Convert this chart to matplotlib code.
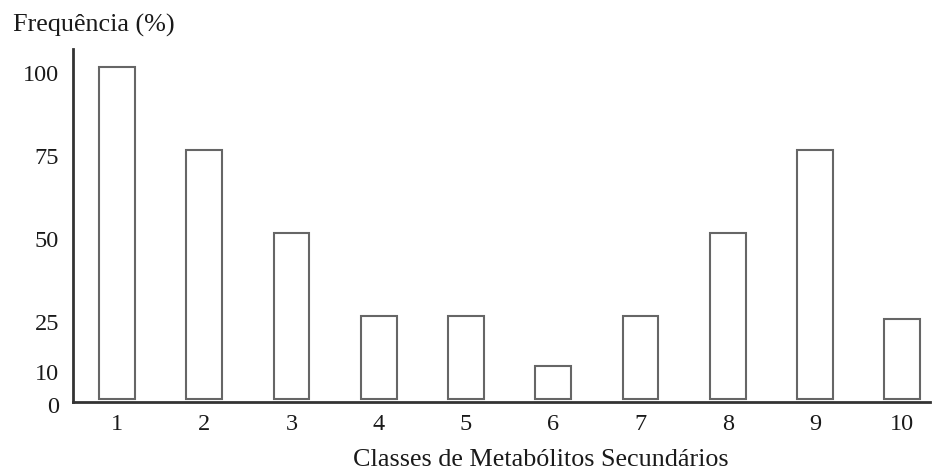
import matplotlib
matplotlib.use("Agg")
import matplotlib.pyplot as plt
from matplotlib.transforms import ScaledTranslation

categories = [1, 2, 3, 4, 5, 6, 7, 8, 9, 10]
values = [100, 75, 50, 25, 25, 10, 25, 50, 75, 24]
yticks = [0, 10, 25, 50, 75, 100]

plt.rcParams['font.family'] = ['Liberation Serif', 'DejaVu Serif']

fig = plt.figure(figsize=(9.33, 4.72), dpi=100)
ax = fig.add_axes([73/933, 1-402/472, (930-73)/933, (402-49)/472])

ax.bar(categories, values, width=0.41, facecolor='white', edgecolor='#666666', linewidth=1.5)

ax.set_xlim(0.495, 10.32)
ax.set_ylim(-0.9, 105.4)
ax.set_xticks(categories)
ax.set_xticklabels([str(c) for c in categories])
ax.set_yticks(yticks)
ax.set_yticklabels([str(t) for t in yticks])
ax.tick_params(axis='both', length=0, labelsize=17.5, colors='#1a1a1a')
ax.tick_params(axis='y', pad=10)
ax.tick_params(axis='x', pad=9)

off = ScaledTranslation(0, -6/100, fig.dpi_scale_trans)
for lab in ax.get_yticklabels():
    lab.set_transform(lab.get_transform() + off)

for s in ['top', 'right']:
    ax.spines[s].set_visible(False)
for s in ['left', 'bottom']:
    ax.spines[s].set_linewidth(2)
    ax.spines[s].set_color('#333333')

fig.text(541/933, 1-460/472, 'Classes de Metabólitos Secundários', fontsize=18.8,
         color='#1a1a1a', ha='center', va='center')
fig.text(13/933, 1-25/472, 'Frequência (%)', fontsize=18.8, color='#1a1a1a',
         ha='left', va='center')

fig.savefig('out.png', dpi=100, facecolor='white')
